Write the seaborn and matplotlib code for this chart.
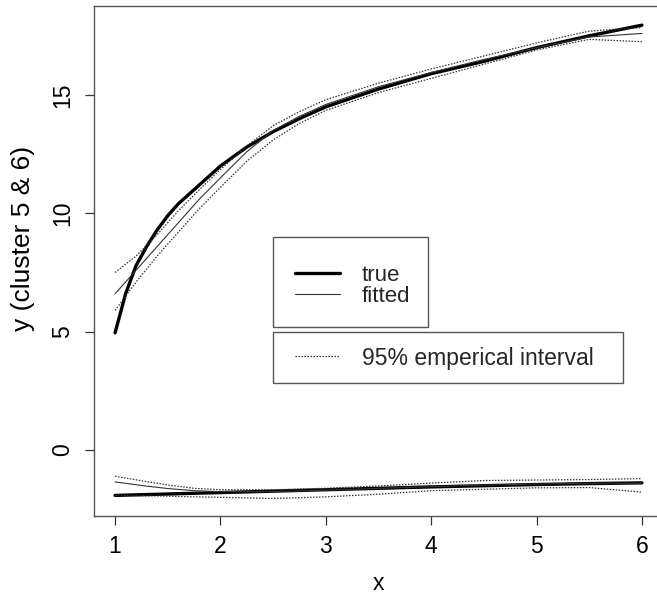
import numpy as np
import pandas as pd
import matplotlib
matplotlib.use("Agg")
import matplotlib.pyplot as plt
from matplotlib.lines import Line2D
from matplotlib.patches import Rectangle
import seaborn as sns

# ---------------- data ----------------
x_up = [1.0, 1.1, 1.2, 1.3, 1.4, 1.5, 1.6, 1.8, 2.0, 2.25, 2.5, 2.75, 3.0, 3.5, 4.0, 4.5, 5.0, 5.5, 6.0]
true_up = [4.95, 6.6, 7.8, 8.6, 9.3, 9.9, 10.4, 11.2, 12.0, 12.8, 13.45, 14.0, 14.5, 15.25, 15.9, 16.42, 17.0, 17.5, 17.95]

x_fit_up = [1.0, 1.2, 1.4, 1.6, 1.8, 2.0, 2.25, 2.5, 2.75, 3.0, 3.5, 4.0, 4.5, 5.0, 5.5, 6.0]
fit_up = [6.6, 7.6, 8.6, 9.6, 10.6, 11.5, 12.6, 13.5, 14.1, 14.6, 15.35, 15.95, 16.5, 17.0, 17.45, 17.6]
hi_up = [7.5, 8.2, 9.1, 10.1, 11.0, 11.85, 12.85, 13.7, 14.3, 14.8, 15.5, 16.1, 16.65, 17.2, 17.7, 17.85]
lo_up = [5.9, 7.1, 8.2, 9.2, 10.2, 11.1, 12.2, 13.1, 13.8, 14.35, 15.1, 15.7, 16.3, 16.9, 17.35, 17.25]

x_low = [1.0, 1.25, 1.5, 1.75, 2.0, 2.5, 3.0, 3.5, 4.0, 4.5, 5.0, 5.5, 6.0]
true_low = [-1.92, -1.89, -1.86, -1.83, -1.80, -1.74, -1.68, -1.62, -1.56, -1.51, -1.46, -1.42, -1.39]
fit_low = [-1.35, -1.50, -1.63, -1.72, -1.76, -1.76, -1.70, -1.62, -1.55, -1.49, -1.44, -1.41, -1.40]
hi_low = [-1.11, -1.30, -1.48, -1.62, -1.68, -1.68, -1.62, -1.52, -1.40, -1.29, -1.27, -1.25, -1.21]
lo_low = [-1.92, -1.93, -1.95, -1.98, -2.00, -2.05, -1.98, -1.87, -1.72, -1.66, -1.60, -1.59, -1.78]

x_ticks = [1, 2, 3, 4, 5, 6]
y_ticks = [0, 5, 10, 15]
legend_main = ["true", "fitted"]
legend_interval = "95% emperical interval"
x_label = "x"
y_label = "y (cluster 5 & 6)"

# ---------------- styling ----------------
sns.set_theme(style="white")
plt.rcParams["font.family"] = ["Liberation Sans", "DejaVu Sans"]

W, H = 657, 598
fig = plt.figure(figsize=(W / 100, H / 100), dpi=100)
ax_l, ax_r, ax_t, ax_b = 94, 663, 6, 516
ax = fig.add_axes([ax_l / W, 1 - ax_b / H, (ax_r - ax_l) / W, (ax_b - ax_t) / H])

dotted = (0, (1.2, 1.2))
true_kw = dict(color="black", linewidth=2.4)
fit_kw = dict(color="#333333", linewidth=0.8)
ci_kw = dict(color="#333333", linewidth=0.9, linestyle=dotted)

sns.lineplot(x=x_up, y=true_up, ax=ax, estimator=None, sort=False, **true_kw)
sns.lineplot(x=x_fit_up, y=fit_up, ax=ax, estimator=None, sort=False, **fit_kw)
sns.lineplot(x=x_fit_up, y=hi_up, ax=ax, estimator=None, sort=False, **ci_kw)
sns.lineplot(x=x_fit_up, y=lo_up, ax=ax, estimator=None, sort=False, **ci_kw)

sns.lineplot(x=x_low, y=true_low, ax=ax, estimator=None, sort=False, **true_kw)
sns.lineplot(x=x_low, y=fit_low, ax=ax, estimator=None, sort=False, **fit_kw)
sns.lineplot(x=x_low, y=hi_low, ax=ax, estimator=None, sort=False, **ci_kw)
sns.lineplot(x=x_low, y=lo_low, ax=ax, estimator=None, sort=False, **ci_kw)

ax.set_xlim(0.8, 6.2)
ax.set_ylim(-2.79, 18.76)
ax.set_xticks(x_ticks)
ax.set_yticks(y_ticks)
ax.set_xticklabels([str(t) for t in x_ticks])
ax.set_yticklabels([str(t) for t in y_ticks], rotation=90, va="center")

for s in ax.spines.values():
    s.set_color("#555555")
    s.set_linewidth(1.0)
ax.tick_params(axis="both", which="both", direction="out", length=6.5, width=0.9,
               color="#333333", labelsize=16.5, labelcolor="black",
               bottom=True, left=True)
ax.tick_params(axis="x", pad=7)
ax.tick_params(axis="y", pad=8)

ax.set_xlabel(x_label, fontsize=16.5, color="black")
ax.set_ylabel(y_label, fontsize=19, color="black")
ax.xaxis.set_label_coords(0.5, -0.11)
ax.yaxis.set_label_coords(-0.104, 0.545)

# ---------------- legends ----------------
def fig_rect(x0, y0, x1, y1):
    return Rectangle((x0 / W, 1 - y1 / H), (x1 - x0) / W, (y1 - y0) / H,
                     transform=fig.transFigure, fill=False, edgecolor="#555555",
                     linewidth=1.0, zorder=5)

fig.patches.append(fig_rect(273, 237, 428, 327))
fig.patches.append(fig_rect(273, 332, 623, 383))

h1 = [Line2D([], [], **true_kw), Line2D([], [], **fit_kw)]
leg1 = fig.legend(h1, legend_main, loc="center left",
                  bbox_to_anchor=(295 / W, 1 - 286 / H), frameon=False,
                  fontsize=16, handlelength=2.03, handletextpad=0.99,
                  labelspacing=0.0, borderpad=0.0, borderaxespad=0.0)
h2 = [Line2D([], [], **ci_kw)]
leg2 = fig.legend(h2, [legend_interval], loc="center left",
                  bbox_to_anchor=(295 / W, 1 - 358 / H), frameon=False,
                  fontsize=16.5, handlelength=1.97, handletextpad=0.96,
                  borderpad=0.0, borderaxespad=0.0)

fig.savefig("out.png", dpi=100)
